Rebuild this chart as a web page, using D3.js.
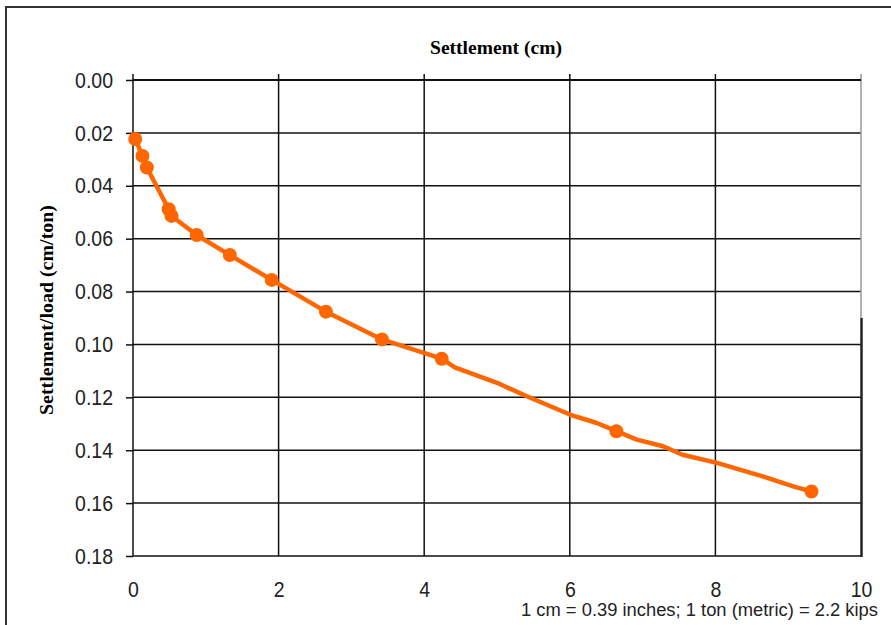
<!DOCTYPE html>
<html>
<head>
<meta charset="utf-8">
<script src="https://cdn.jsdelivr.net/npm/d3@7"></script>
<style>
  html, body { margin: 0; padding: 0; background: #fff; }
  svg { display: block; }
</style>
</head>
<body>
<svg id="chart" width="891" height="625"></svg>
<script>
// ---- data ----
const xTicks = [0, 2, 4, 6, 8, 10];
const yTicks = [0, 0.02, 0.04, 0.06, 0.08, 0.10, 0.12, 0.14, 0.16, 0.18];
// measured points (markers)
const markerSettlement = [0.03, 0.13, 0.19, 0.49, 0.53, 0.875, 1.33, 1.905, 2.65, 3.42, 4.24, 6.64, 9.32];
const markerRatio = [0.0223, 0.0287, 0.0331, 0.0489, 0.0514, 0.0586, 0.0662, 0.0756, 0.0876, 0.0981, 0.1054, 0.1328, 0.1556];
// trace of the connecting curve
const curveSettlement = [0.03, 0.13, 0.19, 0.49, 0.53, 0.875, 1.33, 1.905, 2.65, 3.42, 4.24, 4.42, 5.0, 5.41, 6.0, 6.37, 6.64, 6.92, 7.28, 7.55, 8.02, 8.65, 9.07, 9.32];
const curveRatio = [0.0223, 0.0287, 0.0331, 0.0489, 0.0514, 0.0586, 0.0662, 0.0756, 0.0876, 0.0981, 0.1054, 0.1087, 0.1145, 0.1196, 0.1265, 0.1297, 0.1328, 0.1360, 0.1385, 0.1417, 0.1448, 0.1499, 0.1537, 0.1556];
const titleText = "Settlement (cm)";
const yLabelText = "Settlement/load (cm/ton)";
const noteText = "1 cm = 0.39 inches; 1 ton (metric) = 2.2 kips";

// ---- drawing ----
(function () {
const svg = d3.select("#chart");
const pL = 133, pR = 861, pT = 80, pB = 556;
const orange = "#FF6600";
const sans = "'Liberation Sans', Arial, sans-serif";
const serif = "'Liberation Serif', 'Times New Roman', serif";

const x = d3.scaleLinear().domain([0, 10]).range([pL, pR]);
const y = d3.scaleLinear().domain([0, 0.18]).range([pT, pB]);

// outer frame
svg.append("rect")
  .attr("x", 6).attr("y", 7).attr("width", 1000).attr("height", 1000)
  .attr("fill", "none").attr("stroke", "#333").attr("stroke-width", 2);

// horizontal gridlines
svg.append("g").selectAll("line").data(yTicks).join("line")
  .attr("x1", pL).attr("x2", pR)
  .attr("y1", d => y(d)).attr("y2", d => y(d))
  .attr("stroke", "#111").attr("stroke-width", 1.5);

// vertical gridlines (with small tick above the top axis)
svg.append("g").selectAll("line").data(xTicks.slice(1, -1)).join("line")
  .attr("x1", d => x(d)).attr("x2", d => x(d))
  .attr("y1", pT - 6).attr("y2", pB)
  .attr("stroke", "#111").attr("stroke-width", 1.5);

// right plot edge: light upper part, dark lower part
svg.append("line").attr("x1", pR).attr("x2", pR)
  .attr("y1", pT - 6).attr("y2", y(0.09))
  .attr("stroke", "#999").attr("stroke-width", 1.5);
svg.append("line").attr("x1", pR + 0.5).attr("x2", pR + 0.5)
  .attr("y1", y(0.09)).attr("y2", pB + 1)
  .attr("stroke", "#222").attr("stroke-width", 2.5);

// y axis (left)
const yAxis = d3.axisLeft(y).tickValues(yTicks).tickFormat(d3.format(".2f")).tickSize(7).tickPadding(13);
const gy = svg.append("g").attr("transform", `translate(${pL},0)`).call(yAxis);
gy.select(".domain").attr("stroke", "#111").attr("stroke-width", 1.5).attr("d", `M0,${pT - 6}V${pB}`);
gy.selectAll(".tick line").attr("stroke", "#111").attr("stroke-width", 1.5);
gy.selectAll(".tick text").attr("fill", "#222").attr("transform", "scale(1,1.15)")
  .style("font-family", sans).style("font-size", "19.5px");

// x axis labels at bottom, no ticks
const xAxis = d3.axisBottom(x).tickValues(xTicks).tickFormat(d3.format("d")).tickSize(0).tickPadding(22);
const gx = svg.append("g").attr("transform", `translate(0,${pB})`).call(xAxis);
gx.select(".domain").remove();
gx.selectAll(".tick text").attr("fill", "#222").attr("transform", "scale(1,1.15)")
  .style("font-family", sans).style("font-size", "19.5px");

// top axis line
svg.append("line").attr("x1", pL).attr("x2", pR).attr("y1", pT).attr("y2", pT)
  .attr("stroke", "#111").attr("stroke-width", 2);

// curve
const line = d3.line().x(d => x(d[0])).y(d => y(d[1]));
const curve = curveSettlement.map((v, i) => [v, curveRatio[i]]);
svg.append("path").datum(curve)
  .attr("d", line).attr("fill", "none")
  .attr("stroke", orange).attr("stroke-width", 4.5).attr("stroke-linejoin", "round");

// markers
const pts = markerSettlement.map((v, i) => [v, markerRatio[i]]);
svg.append("g").selectAll("circle").data(pts).join("circle")
  .attr("cx", d => x(d[0])).attr("cy", d => y(d[1])).attr("r", 7)
  .attr("fill", orange);

// title
svg.append("text").attr("x", 496).attr("y", 54).attr("text-anchor", "middle")
  .style("font-family", serif)
  .style("font-weight", "bold").style("font-size", "19px")
  .attr("textLength", 132).attr("lengthAdjust", "spacingAndGlyphs")
  .text(titleText);

// y label
svg.append("text").attr("transform", "translate(53,310) rotate(-90)").attr("text-anchor", "middle")
  .style("font-family", serif)
  .style("font-weight", "bold").style("font-size", "19px")
  .attr("textLength", 210).attr("lengthAdjust", "spacingAndGlyphs")
  .text(yLabelText);

// note
svg.append("text").attr("x", 878).attr("y", 616).attr("text-anchor", "end")
  .attr("fill", "#222")
  .style("font-family", sans).style("font-size", "17.5px")
  .attr("textLength", 357).attr("lengthAdjust", "spacingAndGlyphs")
  .text(noteText);
})();
</script>
</body>
</html>
